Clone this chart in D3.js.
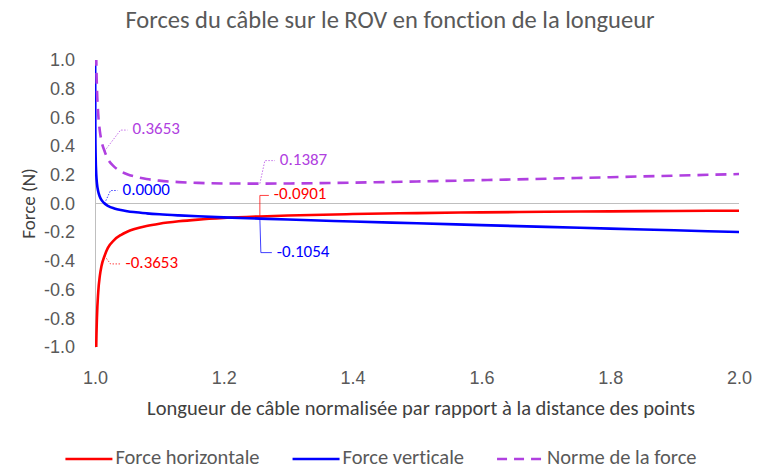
<!DOCTYPE html>
<html>
<head>
<meta charset="utf-8">
<script src="https://cdn.jsdelivr.net/npm/d3@7"></script>
<style>
  html, body { margin: 0; padding: 0; background: #ffffff; }
  svg { display: block; font-family: Calibri, Carlito, Lato, "Open Sans", sans-serif; font-variant-ligatures: none; }
</style>
</head>
<body>
<svg id="chart" width="763" height="469"></svg>
<script>
// Cable length, normalised by the distance between the two attachment points
const lengths = [1.0001, 1.0005, 1.001, 1.002, 1.003, 1.005, 1.0075, 1.01, 1.0148, 1.02,
  1.03, 1.04, 1.05, 1.06, 1.08, 1.10, 1.13, 1.16, 1.20, 1.256,
  1.30, 1.40, 1.50, 1.60, 1.70, 1.80, 1.90, 2.00];

// Forces exerted by the cable on the ROV (N)
const forceHorizontale = [-4.3623, -1.9511, -1.3798, -0.9759, -0.7969, -0.6175, -0.5045, -0.4371, -0.3653, -0.3097,
  -0.2533, -0.2198, -0.1969, -0.1801, -0.1565, -0.1405, -0.1239, -0.1122, -0.1010, -0.0901,
  -0.0838, -0.0736, -0.0668, -0.0617, -0.0579, -0.0548, -0.0522, -0.0501];

const forceVerticale = [1.2913, 0.5128, 0.3285, 0.1983, 0.1407, 0.0831, 0.0467, 0.0251, 0.0000, -0.0160,
  -0.0344, -0.0457, -0.0535, -0.0596, -0.0685, -0.0752, -0.0829, -0.0893, -0.0965, -0.1054,
  -0.1118, -0.1253, -0.1381, -0.1506, -0.1628, -0.1749, -0.1869, -0.1989];

const normeForce = [4.5494, 2.0174, 1.4183, 0.9958, 0.8093, 0.6231, 0.5066, 0.4378, 0.3653, 0.3101,
  0.2556, 0.2245, 0.2041, 0.1897, 0.1709, 0.1593, 0.1491, 0.1434, 0.1397, 0.1387,
  0.1397, 0.1454, 0.1534, 0.1627, 0.1728, 0.1833, 0.1941, 0.2051];

const seriesNames = ["Force horizontale", "Force verticale", "Norme de la force"];
const xTickValues = [1.0, 1.2, 1.4, 1.6, 1.8, 2.0];
const yTickValues = [-1.0, -0.8, -0.6, -0.4, -0.2, 0.0, 0.2, 0.4, 0.6, 0.8, 1.0];

// Indices of the points that carry a data label
const labelledPoints = [8, 19];

const titleText = "Forces du câble sur le ROV en fonction de la longueur";
const xAxisTitle = "Longueur de câble normalisée par rapport à la distance des points";
const yAxisTitle = "Force (N)";

// ---------------------------------------------------------------------------
const plot = { left: 95, right: 739, top: 60, bottom: 347 };
const textGrey = "#595959";
const axisGrey = "#BFBFBF";

// number formats using a plain hyphen for negatives
const locale = d3.formatLocale({ decimal: ".", thousands: ",", grouping: [3], currency: ["", ""], minus: "-" });
const fmtTick = locale.format(".1f");
const fmtLabel = locale.format(".4f");

const series = [
  { name: seriesNames[0], values: forceHorizontale, color: "#FF0000", dash: null },
  { name: seriesNames[1], values: forceVerticale, color: "#0000FF", dash: null },
  { name: seriesNames[2], values: normeForce, color: "#B040E0", dash: "11,7" }
];

const svg = d3.select("#chart");

const x = d3.scaleLinear().domain([1.0, 2.0]).range([plot.left, plot.right]);
const y = d3.scaleLinear().domain([-1.0, 1.0]).range([plot.bottom, plot.top]);

// Title
svg.append("text")
  .attr("x", 390).attr("y", 28)
  .attr("text-anchor", "middle")
  .attr("font-size", 24.5)
  .attr("fill", textGrey)
  .text(titleText);

// Y axis (labels only, with a light axis line)
const yAxis = d3.axisLeft(y).tickValues(yTickValues).tickFormat(fmtTick).tickSize(0).tickPadding(20);
const gy = svg.append("g").attr("transform", `translate(${plot.left},0)`).call(yAxis);
gy.select(".domain").attr("stroke", axisGrey).attr("stroke-width", 1);
gy.selectAll("text").attr("font-size", 18).attr("fill", textGrey).attr("font-family", null);

// X axis labels along the bottom of the plot area
const xAxis = d3.axisBottom(x).tickValues(xTickValues).tickFormat(fmtTick).tickSize(0).tickPadding(24);
const gx = svg.append("g").attr("transform", `translate(0,${plot.bottom})`).call(xAxis);
gx.select(".domain").remove();
gx.selectAll("text").attr("font-size", 18).attr("fill", textGrey).attr("font-family", null);

// Horizontal zero line
svg.append("line")
  .attr("x1", plot.left).attr("x2", plot.right)
  .attr("y1", y(0)).attr("y2", y(0))
  .attr("stroke", axisGrey).attr("stroke-width", 1);

// Axis titles
svg.append("text")
  .attr("transform", `translate(30,${(plot.top + plot.bottom) / 2}) rotate(-90)`)
  .attr("text-anchor", "middle")
  .attr("dominant-baseline", "middle")
  .attr("font-size", 19)
  .attr("fill", "#404040")
  .text(yAxisTitle);

svg.append("text")
  .attr("x", 421).attr("y", 415)
  .attr("text-anchor", "middle")
  .attr("font-size", 20.5)
  .attr("fill", "#404040")
  .text(xAxisTitle);

// Series lines, clipped to the plot area
svg.append("clipPath").attr("id", "plot-clip")
  .append("rect")
  .attr("x", plot.left).attr("y", plot.top)
  .attr("width", plot.right - plot.left).attr("height", plot.bottom - plot.top);

const line = d3.line()
  .x((d, i) => x(lengths[i]))
  .y(d => y(d))
  .curve(d3.curveMonotoneX);

const gLines = svg.append("g").attr("clip-path", "url(#plot-clip)");
series.forEach(s => {
  gLines.append("path")
    .datum(s.values)
    .attr("d", line)
    .attr("fill", "none")
    .attr("stroke", s.color)
    .attr("stroke-width", 2.6)
    .attr("stroke-linejoin", "round")
    .attr("stroke-dasharray", s.dash);
});

// Data labels with leader lines
// (dx, dy) = text start relative to the point; ex = horizontal offset of the leader's elbow
const labelStyle = [
  [
    { s: 0, dx: 21, dy: 8, ex: 6, dotted: true },
    { s: 1, dx: 18, dy: -13, ex: 6, dotted: true },
    { s: 2, dx: 28, dy: -21, ex: 16, dotted: true }
  ],
  [
    { s: 0, dx: 14, dy: -21, ex: 0, dotted: false },
    { s: 1, dx: 17, dy: 34, ex: 1, dotted: false },
    { s: 2, dx: 20, dy: -23, ex: 5, dotted: true }
  ]
];

const gLabels = svg.append("g");
labelledPoints.forEach((idx, k) => {
  labelStyle[k].forEach(st => {
    const s = series[st.s];
    const v = s.values[idx];
    const px = x(lengths[idx]), py = y(v);
    const tx = px + st.dx, ty = py + st.dy;
    gLabels.append("polyline")
      .attr("points", `${px},${py} ${px + st.ex},${ty} ${tx - 5},${ty}`)
      .attr("fill", "none")
      .attr("stroke", s.color)
      .attr("stroke-opacity", 0.75)
      .attr("stroke-width", 1)
      .attr("stroke-dasharray", st.dotted ? "1.5,1.5" : null);
    gLabels.append("text")
      .attr("x", tx).attr("y", ty)
      .attr("dominant-baseline", "middle")
      .attr("font-size", 17)
      .attr("fill", s.color)
      .text(fmtLabel(v));
  });
});

// Legend, centred under the chart
const legendY = 459;
const sampleLen = 47, sampleGap = 3, itemGap = 33;
const gLegend = svg.append("g");
const items = series.map(s => {
  const g = gLegend.append("g");
  g.append("line")
    .attr("x1", 0).attr("x2", sampleLen)
    .attr("y1", 0).attr("y2", 0)
    .attr("stroke", s.color).attr("stroke-width", 2.6)
    .attr("stroke-dasharray", s.dash ? "10,7" : null);
  const t = g.append("text")
    .attr("x", sampleLen + sampleGap).attr("y", 0)
    .attr("dominant-baseline", "middle")
    .attr("font-size", 20.5)
    .attr("fill", textGrey)
    .text(s.name);
  return { g, w: sampleLen + sampleGap + t.node().getComputedTextLength() };
});
const totalW = d3.sum(items, d => d.w) + itemGap * (items.length - 1);
let cx = 381 - totalW / 2;
items.forEach(it => {
  it.g.attr("transform", `translate(${cx},${legendY})`);
  cx += it.w + itemGap;
});
</script>
</body>
</html>
